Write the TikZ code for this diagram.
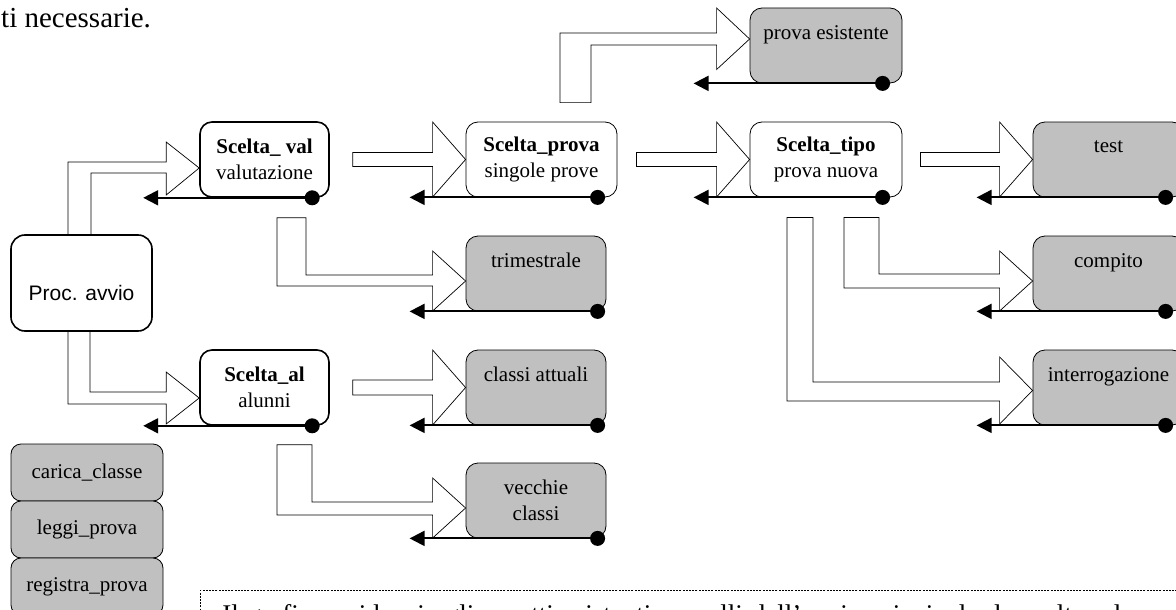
\documentclass[tikz,border=0pt]{standalone}
\usepackage{fontspec}
\setmainfont{Liberation Serif}
\newfontfamily\arialfont{Liberation Sans}
\usetikzlibrary{calc,arrows.meta,backgrounds}

\definecolor{boxgray}{HTML}{C0C0C0}

\tikzset{
  base/.style={rounded corners=12pt, draw=black, align=center,
    font=\fontsize{21}{26}\selectfont, inner sep=0pt},
  choice/.style={base, fill=white, line width=0.8pt, minimum height=75pt},
  mainchoice/.style={choice, line width=1.6pt},
  leaf/.style={base, fill=boxgray, line width=0.8pt, minimum height=75pt},
  stackbox/.style={base, fill=boxgray, line width=0.8pt, minimum width=152pt,
    minimum height=57pt, rounded corners=10pt},
  barrow/.style={draw=black, fill=white, line width=0.7pt, line join=miter},
  back/.style={line width=2pt, -{Triangle[length=15pt,width=15pt]}},
}

% straight block arrow: from, to, gap after source, half shaft width
\newcommand\blockstraight[4]{%
  \draw[barrow] ($(#1.east)+(#3,-#4)$) -- ($(#2.west)+(-33,-#4)$)
    -- ($(#2.west)+(-33,-37.5)$) -- (#2.west) -- ($(#2.west)+(-33,37.5)$)
    -- ($(#2.west)+(-33,#4)$) -- ($(#1.east)+(#3,#4)$) -- cycle;}

% bent block arrow going down then right, with a closed tail
% from, to, left x, right x, tail y, tip dy, shaft up, shaft down, head half
\newcommand\blockbent[9]{%
  \draw[barrow] ($(#1.south)+(#3,#5)$) |- ($(#2.west)+(-33,{#6+#8})$)
    -- ($(#2.west)+(-33,{#6+#9})$) -- ($(#2.west)+(0,#6)$)
    -- ($(#2.west)+(-33,{#6-#9})$) -- ($(#2.west)+(-33,{#6-#7})$)
    -| ($(#1.south)+(#4,#5)$) -- cycle;}

% return line along the bottom of a box: dot on the right, arrow on the left
\newcommand\backline[2]{%
  \draw[back] ($(#1.south west)+(#2,0)$) -- ($(#1.south west)+(-56,0)$);
  \fill ($(#1.south west)+(#2,0)$) circle (7.5pt);}

\begin{document}
\begin{tikzpicture}[x=1pt,y=-1pt]
\useasboundingbox (0,0) rectangle (1176,610);
\clip (0,0) rectangle (1176,610);

\node[anchor=base west, font=\fontsize{29}{34}\selectfont, inner sep=0pt]
  (toptext) at (1,28) {ti necessarie.};

% main procedure and choice boxes
\node[mainchoice, minimum width=141pt, minimum height=96pt, rounded corners=14pt,
  font=\arialfont\fontsize{21}{26}\selectfont, text height=34pt, text depth=0pt]
  (proc) at (81.5,283) {Proc. avvio};
\node[mainchoice, minimum width=129pt] (val) at (264.5,159.5)
  {\textbf{Scelta\_ val}\\valutazione};
\node[choice, minimum width=151pt] (prova) at (541.5,159.5)
  {\textbf{Scelta\_prova}\\singole prove};
\node[choice, minimum width=152pt] (tipo) at (826,159.5)
  {\textbf{Scelta\_tipo}\\prova nuova};
\node[mainchoice, minimum width=129pt] (al) at (264.5,387.5)
  {\textbf{Scelta\_al}\\alunni};

% leaf boxes
\node[leaf, minimum width=152pt] (esist) at (826,45.5) {prova esistente\\~};
\node[leaf, minimum width=151pt] (test) at (1108.5,159.5) {test\\~};
\node[leaf, minimum width=140pt] (trim) at (536,273.5) {trimestrale\\~};
\node[leaf, minimum width=140pt] (attuali) at (536,387.5) {classi attuali\\~};
\node[leaf, minimum width=140pt] (vecchie) at (536,500.5) {vecchie\\classi};
\node[leaf, minimum width=151pt] (compito) at (1108.5,273.5) {compito\\~};
\node[leaf, minimum width=151pt] (interr) at (1108.5,387.5) {interrogazione\\~};

% stack of routines
\node[stackbox] (carica) at (87,472.5) {carica\_classe};
\node[stackbox] (leggi) at (87,529.5) {leggi\_prova};
\node[stackbox] (registra) at (87,586.5) {registra\_prova};

% block arrows
\begin{scope}[on background layer]
  \draw[barrow] ($(proc.north)+(-13.5,0)$) |- ($(val.west)+(-33,2.5)$)
    -- ++(0,-20) -- ($(val.west)+(0,8.5)$) -- ++(-33,27) -- ++(0,-22)
    -| ($(proc.north)+(9.5,0)$);
  \draw[barrow] ($(proc.south)+(-13.5,0)$) |- ($(al.west)+(-33,16.5)$)
    -- ++(0,20) -- ($(al.west)+(0,10.5)$) -- ++(-33,-26) -- ++(0,20)
    -| ($(proc.south)+(8.5,0)$);
  \draw[barrow] ($(prova.north)+(18.5,-19)$) |- ($(esist.west)+(-33,-12.5)$)
    -- ($(esist.west)+(-33,-37.5)$) -- ($(esist.west)+(0,-6.5)$)
    -- ($(esist.west)+(-33,24)$) -- ($(esist.west)+(-33,-0.5)$)
    -| ($(prova.north)+(49.5,-19)$) -- cycle;
\end{scope}
\blockstraight{val}{prova}{23}{7}
\blockstraight{prova}{tipo}{19}{7}
\blockstraight{tipo}{test}{18}{7}
\blockstraight{al}{attuali}{23}{7.5}
\blockbent{val}{trim}{12.5}{41.5}{20}{7.5}{6}{5}{30}
\blockbent{al}{vecchie}{12.5}{47.5}{19}{7.5}{6}{7}{30}
\blockbent{tipo}{compito}{18}{53}{20}{7.5}{7}{7}{30}
\blockbent{tipo}{interr}{-39}{-13}{20}{3}{8.5}{10.5}{33.5}

% return lines
\backline{val}{113}
\backline{al}{113}
\backline{prova}{132}
\backline{tipo}{133}
\backline{esist}{133}
\backline{test}{133}
\backline{trim}{132}
\backline{attuali}{132}
\backline{vecchie}{132}
\backline{compito}{133}
\backline{interr}{133}

% note frame
\node[draw, dash pattern=on 2pt off 1.2pt, line width=0.8pt, anchor=north west,
  inner xsep=22pt, inner ysep=14pt, text width=1000pt,
  font=\fontsize{27}{32}\selectfont] (note) at (200,590)
  {Il grafico evidenzia gli aspetti esistenti e quelli dell'avvio principale, le scelte e le procedure secondarie.};
\end{tikzpicture}
\end{document}
